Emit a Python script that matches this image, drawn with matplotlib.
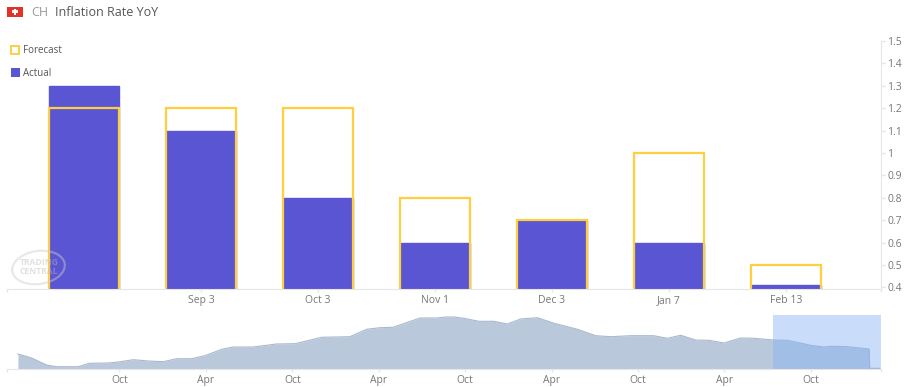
import matplotlib
matplotlib.use('Agg')
import matplotlib.pyplot as plt
from matplotlib.patches import Rectangle, Ellipse

plt.rcParams['font.family'] = ['Open Sans', 'DejaVu Sans']

# Dados do gráfico principal
datas = ['', 'Sep 3', 'Oct 3', 'Nov 1', 'Dec 3', 'Jan 7', 'Feb 13']
actual = [1.3, 1.1, 0.8, 0.6, 0.7, 0.6, 0.41]
forecast = [1.2, 1.2, 1.2, 0.8, 0.7, 1.0, 0.5]
y_ticks = [0.4, 0.5, 0.6, 0.7, 0.8, 0.9, 1.0, 1.1, 1.2, 1.3, 1.4, 1.5]
y_labels = ['0.4', '0.5', '0.6', '0.7', '0.8', '0.9', '1', '1.1', '1.2', '1.3', '1.4', '1.5']

# Dados do navegador (meses a partir do primeiro Oct, altura relativa)
nav_meses = [-7.05, -6.1, -5.06, -4.36, -2.86, -2.09, -0.78, -0.08, 0.96, 2.0, 3.04, 3.97,
             5.01, 5.94, 7.09, 7.9, 9.29, 10.9, 12.2, 14.04, 16.0, 17.16, 18.09, 19.0,
             20.87, 22.0, 22.7, 23.23, 23.92, 24.96, 26.0, 26.93, 27.86, 29.02, 30.18, 31.8,
             33.07, 34.1, 35.5, 37.1, 38.04, 38.97, 40.0, 40.93, 41.98, 43.13, 44.06, 45.45,
             46.38, 48.0, 48.92, 49.39, 50.55, 52.05, 52.1, 52.8]
nav_valores = [15, 11, 4, 2.3, 2.3, 5.7, 6, 7, 9.3, 8, 7.3, 10.3,
               10.3, 13.3, 19.7, 22, 22, 25, 25.3, 31.7, 32.3, 39.7, 41.3, 41.7,
               51, 51, 52, 52, 50.7, 47.7, 47.7, 45, 50, 51.3, 45.7, 39.7,
               33.3, 32.3, 33.3, 33.3, 30.7, 33.7, 29, 28.7, 26, 31, 30.7, 29,
               28.7, 23.7, 22, 22.7, 22.3, 20, 0.7, 0.7]
nav_ticks = [0, 6, 12, 18, 24, 30, 36, 42, 48]
nav_labels = ['Oct', 'Apr', 'Oct', 'Apr', 'Oct', 'Apr', 'Oct', 'Apr', 'Oct']

W, H = 914, 387
COR_ACTUAL = '#5a55d2'
COR_FORECAST = '#ffcf40'
COR_EIXO = '#e6e6e6'
COR_TEXTO = '#777777'


def caixa(x0, y0, x1, y1):
    # converte pixels (origem no topo) para coordenadas da figura
    return [x0 / W, 1 - y1 / H, (x1 - x0) / W, (y1 - y0) / H]


fig = plt.figure(figsize=(W / 100, H / 100), dpi=100)

# Gráfico principal
ax = fig.add_axes(caixa(7, 41, 881, 289))
x = list(range(len(datas)))
ax.bar(x, actual, width=0.6, color=COR_ACTUAL, edgecolor=COR_ACTUAL, linewidth=1.0, zorder=2)
ax.bar(x, forecast, width=0.6, facecolor='none', edgecolor=COR_FORECAST, linewidth=1.6, zorder=3)
ax.set_xlim(-0.658, 6.812)
ax.set_ylim(0.393, 1.5)
ax.set_xticks(x[1:])
ax.set_xticklabels(datas[1:])
ax.set_xticks([-0.658, 6.812], minor=True)
ax.yaxis.tick_right()
ax.set_yticks(y_ticks)
ax.set_yticklabels(y_labels)
ax.tick_params(axis='x', which='both', length=2.5, width=1, color=COR_EIXO, labelcolor=COR_TEXTO, labelsize=7.5, pad=2)
ax.tick_params(axis='y', length=3, width=1, color=COR_EIXO, labelcolor=COR_TEXTO, labelsize=7.5, pad=1.5)
for lado in ['top', 'left']:
    ax.spines[lado].set_visible(False)
ax.spines['bottom'].set_color(COR_EIXO)
ax.spines['right'].set_color(COR_EIXO)

# Navegador
nav = fig.add_axes(caixa(7, 315, 881, 369))
nav.fill_between(nav_meses, nav_valores, 0, color='#bac8dc', linewidth=0, zorder=1)
nav.plot(nav_meses, nav_valores, color='#a9b8ce', linewidth=0.8, zorder=2)
nav.set_xlim(-7.81, 52.88)
nav.axvspan(45.38, 52.88, color='#82b2f5', alpha=0.43, linewidth=0, zorder=3)
nav.set_ylim(0, 54)
nav.set_yticks([])
nav.set_xticks(nav_ticks)
nav.set_xticklabels(nav_labels)
nav.set_xticks([-7.81, 52.88], minor=True)
nav.tick_params(axis='x', which='both', length=2.5, width=1, color=COR_EIXO, labelcolor=COR_TEXTO, labelsize=7.5, pad=2)
for lado in ['top', 'left', 'right']:
    nav.spines[lado].set_visible(False)
nav.spines['bottom'].set_color(COR_EIXO)
nav.patch.set_alpha(0)

# Cabeçalho, legenda e marca d'água
ax_top = fig.add_axes([0, 0, 1, 1], zorder=5)
ax_top.set_xlim(0, W)
ax_top.set_ylim(H, 0)
ax_top.axis('off')
ax_top.add_patch(Rectangle((7, 6.5), 16, 10.5, color='#e2332a', linewidth=0))
ax_top.add_patch(Rectangle((13.6, 8.5), 2.8, 6.5, color='white', linewidth=0))
ax_top.add_patch(Rectangle((11.7, 10.4), 6.6, 2.7, color='white', linewidth=0))
ax_top.text(31, 12, 'CH', color='#9a9a9a', fontsize=9, va='center', ha='left')
ax_top.text(55, 12, 'Inflation Rate YoY', color='#555555', fontsize=9, va='center', ha='left')

ax_top.add_patch(Rectangle((11, 46), 8, 8, facecolor='white', edgecolor=COR_FORECAST, linewidth=1.4))
ax_top.text(23, 50.5, 'Forecast', color='#555555', fontsize=7, va='center', ha='left')
ax_top.add_patch(Rectangle((10.5, 68), 9, 9, facecolor=COR_ACTUAL, linewidth=0))
ax_top.text(23, 73, 'Actual', color='#555555', fontsize=7, va='center', ha='left')

ax_top.add_patch(Ellipse((38.5, 267.5), 53, 33, angle=-8, fill=False, edgecolor='#cccccc', alpha=0.45, linewidth=1.6))
ax_top.text(20, 267, 'TRADING\nCENTRAL', color='#bbbbbb', alpha=0.45, fontsize=6.2, fontweight='bold',
            va='center', ha='left', linespacing=0.95)

plt.savefig('out.png', dpi=100)
